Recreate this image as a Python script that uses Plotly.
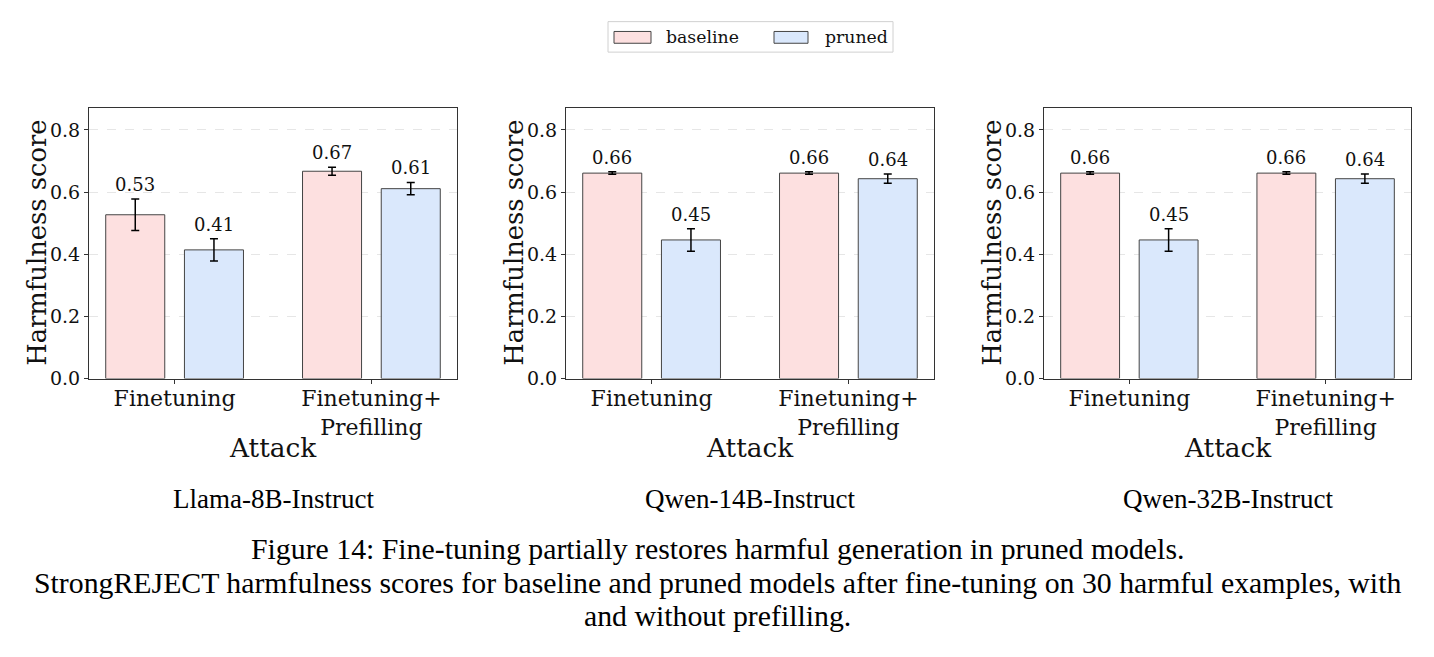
import plotly.graph_objects as go

categories = ["Finetuning", "Finetuning+<br>Prefilling"]
models = ["Llama-8B-Instruct", "Qwen-14B-Instruct", "Qwen-32B-Instruct"]
series_names = ["baseline", "pruned"]
baseline_vals = [[0.527, 0.667], [0.661, 0.661], [0.661, 0.661]]
baseline_err = [[0.051, 0.013], [0.004, 0.004], [0.004, 0.004]]
pruned_vals = [[0.414, 0.611], [0.446, 0.643], [0.446, 0.643]]
pruned_err = [[0.036, 0.020], [0.036, 0.015], [0.036, 0.015]]
yticks = [0.0, 0.2, 0.4, 0.6, 0.8]
caption = ["Figure 14: Fine-tuning partially restores harmful generation in pruned models.",
           "StrongREJECT harmfulness scores for baseline and pruned models after fine-tuning on 30 harmful examples, with",
           "and without prefilling."]

W, H = 1434, 657
SERIF = "DejaVu Serif"
TIMES = "Liberation Serif"
BASE_COL = "#fde0e0"
PRUN_COL = "#dae8fc"
EDGE = "#444444"
TXT = "#111111"

panels_px = [(89, 457), (566, 934), (1044, 1411)]
top_px, bot_px = 110, 385

fig = go.Figure()
xpos = list(range(len(categories)))
annotations = []
shapes = []
for i in range(3):
    ax = "" if i == 0 else str(i + 1)
    for name, vals, errs, col, off in [(series_names[0], baseline_vals[i], baseline_err[i], BASE_COL, -0.35),
                                       (series_names[1], pruned_vals[i], pruned_err[i], PRUN_COL, 0.05)]:
        fig.add_trace(go.Bar(
            x=xpos, y=vals, width=0.3, offset=off, name=name,
            marker=dict(color=col, line=dict(color=EDGE, width=1)),
            error_y=dict(type="data", array=errs, visible=True, color="black", thickness=1.5, width=4),
            showlegend=False, xaxis="x" + ax, yaxis="y" + ax,
        ))
        for xp, v, e in zip(xpos, vals, errs):
            annotations.append(dict(
                x=xp + off + 0.15, y=v + e, xref="x" + ax, yref="y" + ax,
                text=f"{v:.2f}", showarrow=False, xanchor="center", yanchor="bottom", yshift=2,
                font=dict(family=SERIF, size=18, color=TXT)))
    x0, x1 = panels_px[i]
    dom = [x0 / W, x1 / W]
    cx = (x0 + x1) / 2 / W
    fig.layout["xaxis" + ax] = dict(
        domain=dom, range=[-0.435, 1.435], anchor="y" + ax,
        tickvals=xpos, ticktext=categories, ticks="outside", ticklen=4, tickcolor="#333",
        ticklabelstandoff=-4,
        showline=True, linecolor="#333", linewidth=1, mirror=True, showgrid=False,
        zeroline=False, tickfont=dict(family=SERIF, size=22, color=TXT))
    fig.layout["yaxis" + ax] = dict(
        domain=[1 - bot_px / H, 1 - top_px / H], range=[0, 0.87], anchor="x" + ax,
        tickvals=yticks, ticktext=[f"{t:.1f}" for t in yticks], ticks="outside", ticklen=4,
        tickcolor="#333", showline=True, linecolor="#333", linewidth=1, mirror=True,
        showgrid=True, gridcolor="#e6e6e6", griddash="dash", gridwidth=1, zeroline=False,
        tickfont=dict(family=SERIF, size=19, color=TXT))
    annotations.append(dict(x=(x0 - 52) / W, y=1 - 247 / H, xref="paper", yref="paper",
                            xanchor="center", yanchor="middle",
                            text="Harmfulness score", textangle=-90, showarrow=False,
                            font=dict(family=SERIF, size=25.8, color=TXT)))
    annotations.append(dict(x=cx, y=1 - 455 / H, xref="paper", yref="paper", text="Attack",
                            xanchor="center", yanchor="middle",
                            showarrow=False, font=dict(family=SERIF, size=26.4, color=TXT)))
    annotations.append(dict(x=cx, y=1 - 507 / H, xref="paper", yref="paper", text=models[i],
                            xanchor="center", yanchor="middle",
                            showarrow=False, font=dict(family=TIMES, size=27, color="black")))

for k, line in enumerate(caption):
    annotations.append(dict(x=0.5, y=1 - (558 + 34 * k) / H, xref="paper", yref="paper", text=line,
                            xanchor="center", yanchor="middle",
                            showarrow=False, font=dict(family=TIMES, size=29.8, color="black")))

# legend box (drawn manually to match patch shapes)
shapes.append(dict(type="rect", xref="paper", yref="paper", x0=608 / W, x1=893 / W,
                   y0=1 - 53 / H, y1=1 - 22 / H, line=dict(color="#d0d0d0", width=1),
                   fillcolor="white", layer="below"))
for (px0, px1, tx), col, name in [((614, 651, 664), BASE_COL, series_names[0]),
                                  ((774, 808, 823), PRUN_COL, series_names[1])]:
    shapes.append(dict(type="rect", xref="paper", yref="paper", x0=px0 / W, x1=px1 / W,
                       y0=1 - 44 / H, y1=1 - 32 / H, line=dict(color=EDGE, width=1), fillcolor=col))
    annotations.append(dict(x=tx / W, y=1 - 37.5 / H, xref="paper", yref="paper", text=name,
                            xanchor="left", yanchor="middle", showarrow=False,
                            font=dict(family=SERIF, size=17.3, color=TXT)))

fig.update_layout(
    width=W, height=H, margin=dict(l=0, r=0, t=0, b=0),
    paper_bgcolor="white", plot_bgcolor="white", barmode="overlay",
    annotations=annotations, shapes=shapes, showlegend=False,
)
fig.write_html("out.html")
